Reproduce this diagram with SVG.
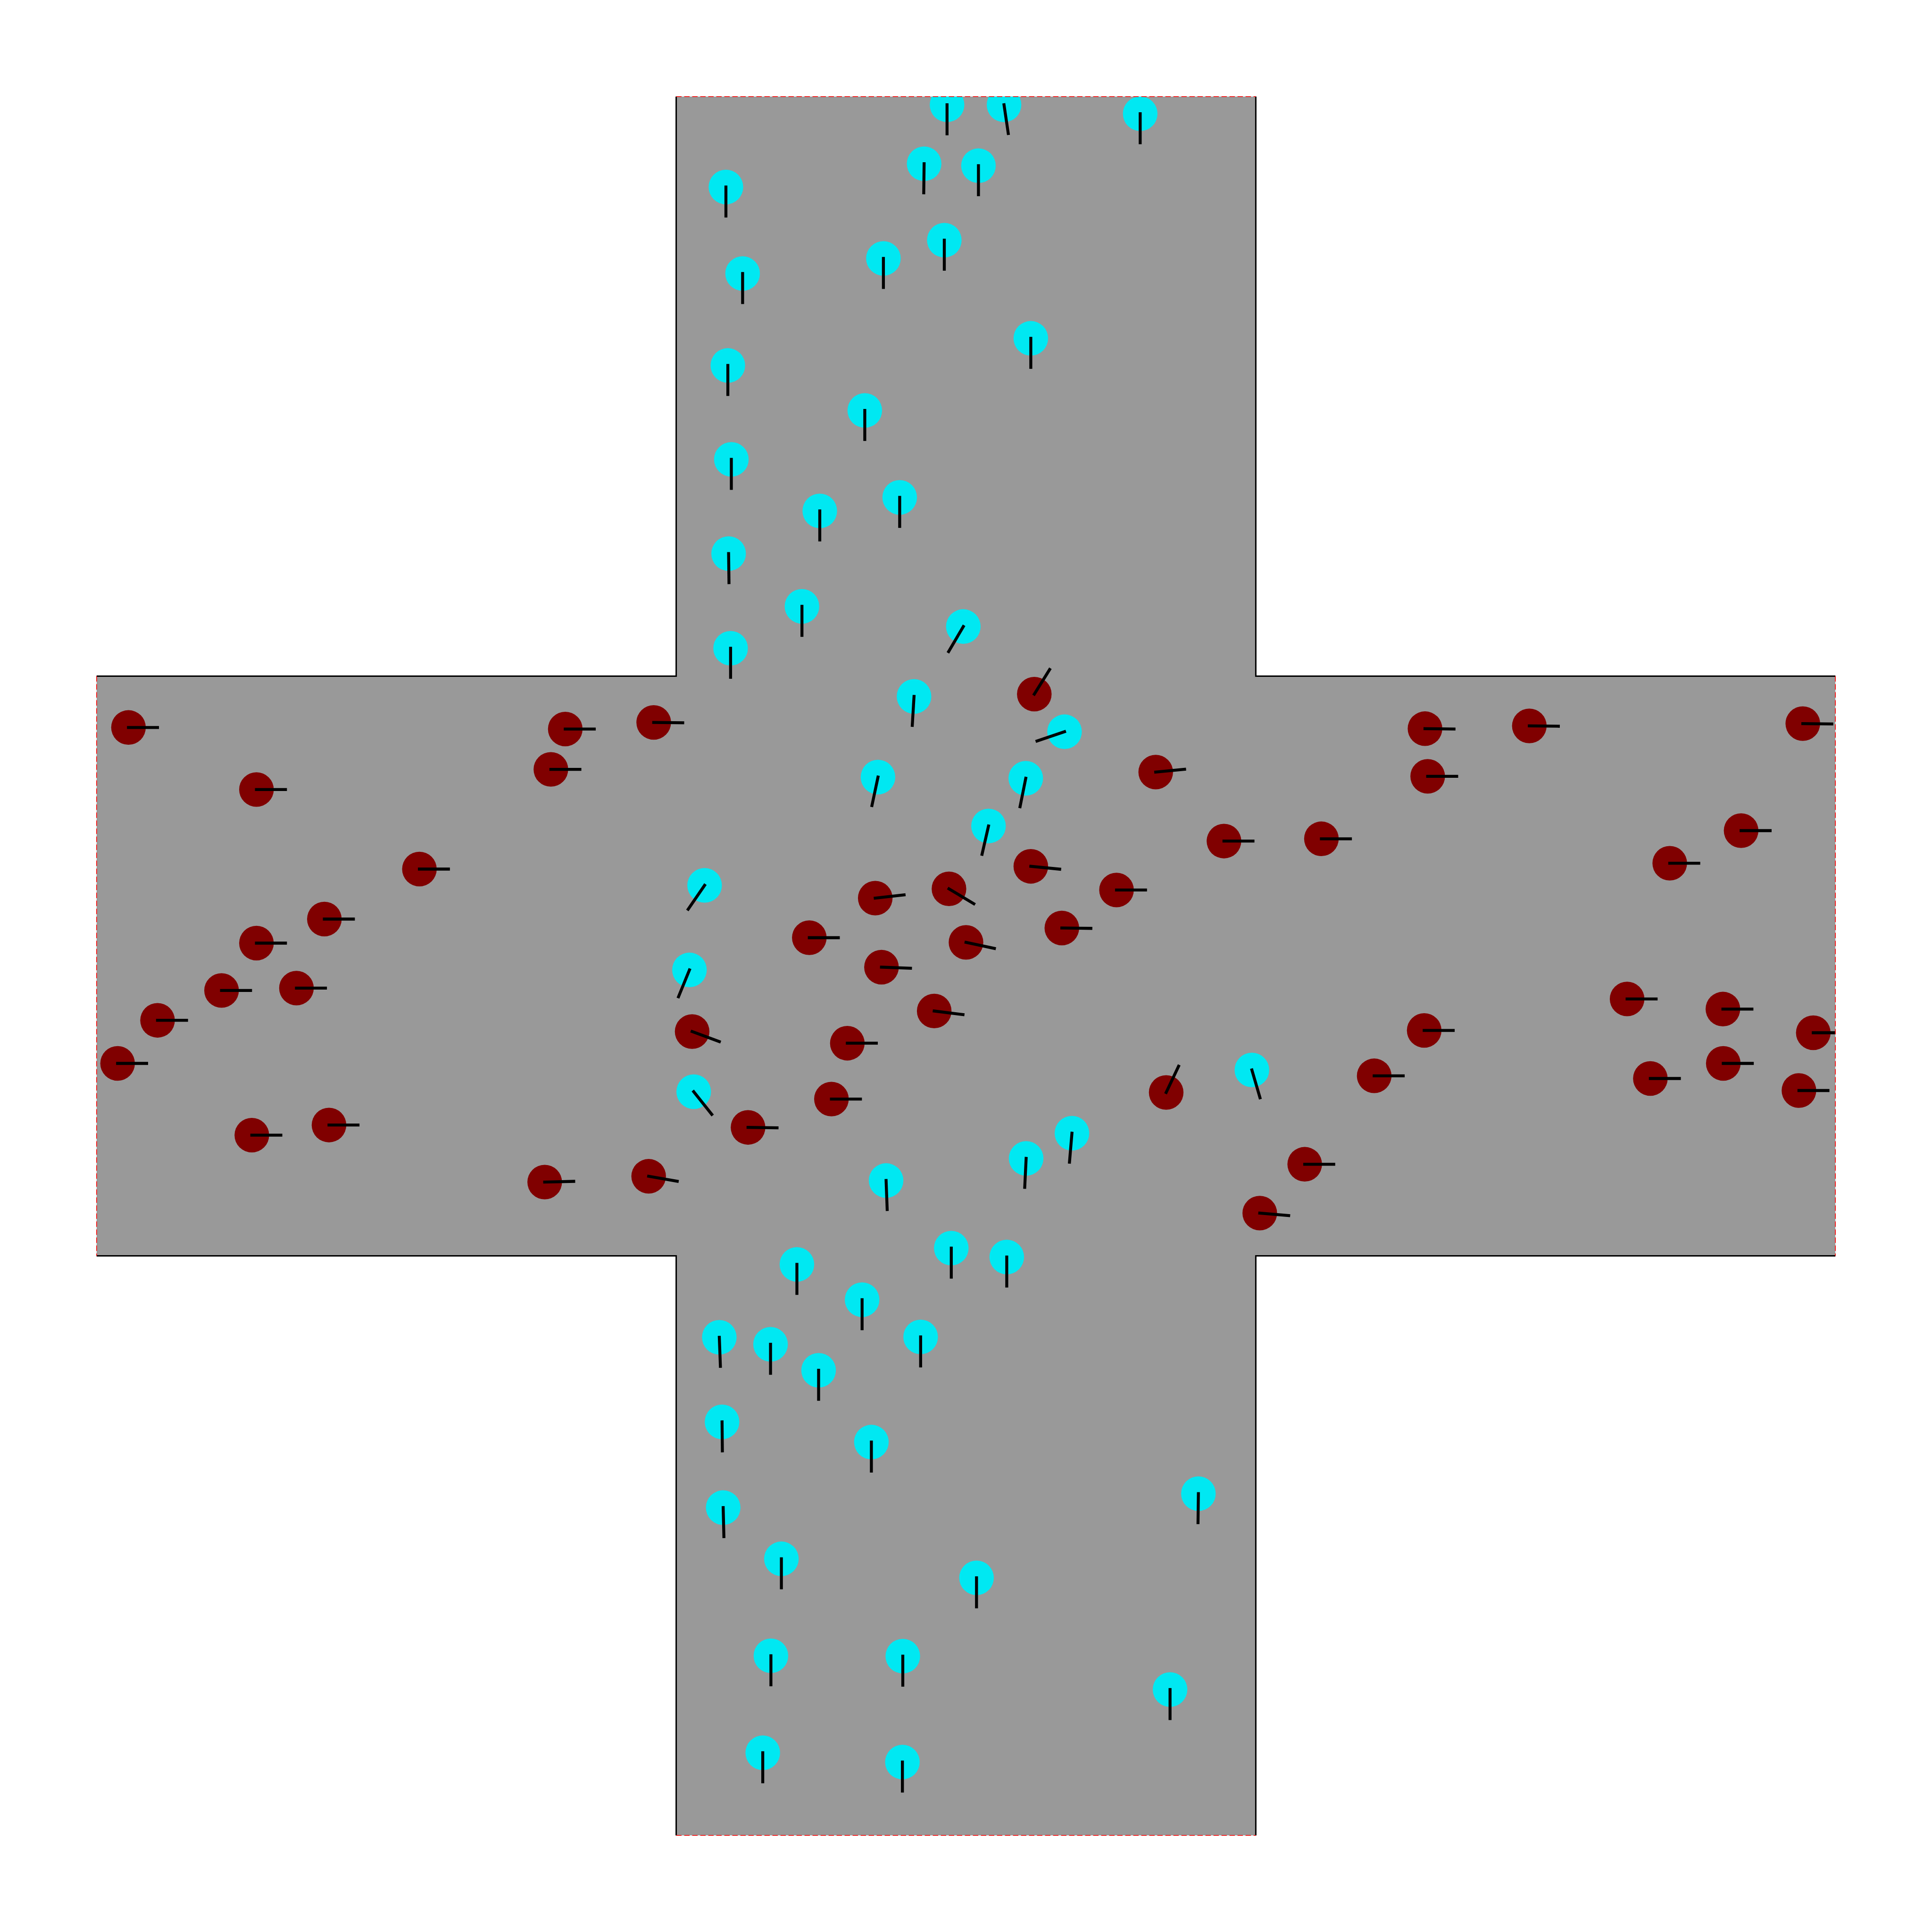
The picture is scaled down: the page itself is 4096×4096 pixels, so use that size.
<svg xmlns="http://www.w3.org/2000/svg" width="4096" height="4096" viewBox="0 0 4096 4096">
<style>
.cy{fill:#00E8F2}
.rd{fill:#800000}
.hd{stroke:#000;stroke-width:6.3;stroke-linecap:square;fill:none}
.wall{stroke:#000;stroke-width:3;fill:none}
.open{stroke:#FF0000;stroke-width:1.6;stroke-dasharray:11.4 5.6;fill:none}
</style>
<defs>
<clipPath id="crossClip"><polygon points="1433.6,204.8 2662.4,204.8 2662.4,1433.6 3891.2,1433.6 3891.2,2662.4 2662.4,2662.4 2662.4,3891.2 1433.6,3891.2 1433.6,2662.4 204.8,2662.4 204.8,1433.6 1433.6,1433.6"/></clipPath>
</defs>
<rect width="4096" height="4096" fill="#FFFFFF"/>
<polygon id="floor" fill="#999999" points="1433.6,204.8 2662.4,204.8 2662.4,1433.6 3891.2,1433.6 3891.2,2662.4 2662.4,2662.4 2662.4,3891.2 1433.6,3891.2 1433.6,2662.4 204.8,2662.4 204.8,1433.6 1433.6,1433.6"/>
<g id="agents" clip-path="url(#crossClip)">
<g id="c1"><circle class="cy" cx="2007.8" cy="222.2" r="36.7"/><line class="hd" x1="2007.8" y1="222.2" x2="2007.8" y2="283.7"/></g>
<g id="c2"><circle class="cy" cx="2128.6" cy="222.2" r="36.7"/><line class="hd" x1="2128.6" y1="222.2" x2="2137.6" y2="283.0"/></g>
<g id="c3"><circle class="cy" cx="2417.3" cy="241.1" r="36.7"/><line class="hd" x1="2417.3" y1="241.1" x2="2417.3" y2="302.6"/></g>
<g id="c4"><circle class="cy" cx="1959.2" cy="347.2" r="36.7"/><line class="hd" x1="1959.2" y1="347.2" x2="1958.4" y2="408.7"/></g>
<g id="c5"><circle class="cy" cx="2074.4" cy="351.3" r="36.7"/><line class="hd" x1="2074.4" y1="351.3" x2="2074.4" y2="412.8"/></g>
<g id="c6"><circle class="cy" cx="1539.0" cy="396.5" r="36.7"/><line class="hd" x1="1539.0" y1="396.5" x2="1539.0" y2="458.0"/></g>
<g id="c7"><circle class="cy" cx="2002.0" cy="509.2" r="36.7"/><line class="hd" x1="2002.0" y1="509.2" x2="2002.0" y2="570.7"/></g>
<g id="c8"><circle class="cy" cx="1872.9" cy="547.9" r="36.7"/><line class="hd" x1="1872.9" y1="547.9" x2="1872.9" y2="609.4"/></g>
<g id="c9"><circle class="cy" cx="1574.4" cy="579.9" r="36.7"/><line class="hd" x1="1574.4" y1="579.9" x2="1574.4" y2="641.4"/></g>
<g id="c10"><circle class="cy" cx="2185.4" cy="717.3" r="36.7"/><line class="hd" x1="2185.4" y1="717.3" x2="2185.4" y2="778.8"/></g>
<g id="c11"><circle class="cy" cx="1543.1" cy="774.8" r="36.7"/><line class="hd" x1="1543.1" y1="774.8" x2="1543.1" y2="836.3"/></g>
<g id="c12"><circle class="cy" cx="1833.4" cy="870.2" r="36.7"/><line class="hd" x1="1833.4" y1="870.2" x2="1833.4" y2="931.7"/></g>
<g id="c13"><circle class="cy" cx="1550.5" cy="973.9" r="36.7"/><line class="hd" x1="1550.5" y1="973.9" x2="1550.5" y2="1035.4"/></g>
<g id="c14"><circle class="cy" cx="1907.4" cy="1054.5" r="36.7"/><line class="hd" x1="1907.4" y1="1054.5" x2="1907.4" y2="1116.0"/></g>
<g id="c15"><circle class="cy" cx="1738.0" cy="1083.2" r="36.7"/><line class="hd" x1="1738.0" y1="1083.2" x2="1738.0" y2="1144.7"/></g>
<g id="c16"><circle class="cy" cx="1544.7" cy="1173.7" r="36.7"/><line class="hd" x1="1544.7" y1="1173.7" x2="1545.5" y2="1235.2"/></g>
<g id="c17"><circle class="cy" cx="1700.2" cy="1285.5" r="36.7"/><line class="hd" x1="1700.2" y1="1285.5" x2="1700.2" y2="1347.0"/></g>
<g id="c18"><circle class="cy" cx="2042.3" cy="1328.3" r="36.7"/><line class="hd" x1="2042.3" y1="1328.3" x2="2011.2" y2="1381.4"/></g>
<g id="c19"><circle class="cy" cx="1548.9" cy="1374.4" r="36.7"/><line class="hd" x1="1548.9" y1="1374.4" x2="1548.9" y2="1435.9"/></g>
<g id="c20"><circle class="cy" cx="1937.8" cy="1476.5" r="36.7"/><line class="hd" x1="1937.8" y1="1476.5" x2="1934.1" y2="1537.9"/></g>
<g id="c21"><circle class="cy" cx="2256.9" cy="1551.3" r="36.7"/><line class="hd" x1="2256.9" y1="1551.3" x2="2198.6" y2="1571.0"/></g>
<g id="c22"><circle class="cy" cx="1861.4" cy="1647.5" r="36.7"/><line class="hd" x1="1861.4" y1="1647.5" x2="1848.6" y2="1707.7"/></g>
<g id="c23"><circle class="cy" cx="2174.7" cy="1650.0" r="36.7"/><line class="hd" x1="2174.7" y1="1650.0" x2="2162.6" y2="1710.3"/></g>
<g id="c24"><circle class="cy" cx="2095.7" cy="1751.2" r="36.7"/><line class="hd" x1="2095.7" y1="1751.2" x2="2082.0" y2="1811.2"/></g>
<g id="c25"><circle class="cy" cx="1493.8" cy="1877.0" r="36.7"/><line class="hd" x1="1493.8" y1="1877.0" x2="1459.0" y2="1927.7"/></g>
<g id="c26"><circle class="cy" cx="1461.7" cy="2056.3" r="36.7"/><line class="hd" x1="1461.7" y1="2056.3" x2="1438.5" y2="2113.2"/></g>
<g id="c27"><circle class="cy" cx="1470.7" cy="2314.5" r="36.7"/><line class="hd" x1="1470.7" y1="2314.5" x2="1509.0" y2="2362.6"/></g>
<g id="c28"><circle class="cy" cx="2654.1" cy="2268.4" r="36.7"/><line class="hd" x1="2654.1" y1="2268.4" x2="2671.3" y2="2327.4"/></g>
<g id="c29"><circle class="cy" cx="2272.6" cy="2402.5" r="36.7"/><line class="hd" x1="2272.6" y1="2402.5" x2="2267.4" y2="2463.8"/></g>
<g id="c30"><circle class="cy" cx="2175.5" cy="2455.9" r="36.7"/><line class="hd" x1="2175.5" y1="2455.9" x2="2172.5" y2="2517.3"/></g>
<g id="c31"><circle class="cy" cx="1878.6" cy="2502.8" r="36.7"/><line class="hd" x1="1878.6" y1="2502.8" x2="1880.9" y2="2564.2"/></g>
<g id="c32"><circle class="cy" cx="1689.5" cy="2680.6" r="36.7"/><line class="hd" x1="1689.5" y1="2680.6" x2="1689.5" y2="2742.1"/></g>
<g id="c33"><circle class="cy" cx="2016.8" cy="2646.1" r="36.7"/><line class="hd" x1="2016.8" y1="2646.1" x2="2016.8" y2="2707.6"/></g>
<g id="c34"><circle class="cy" cx="2134.4" cy="2665.0" r="36.7"/><line class="hd" x1="2134.4" y1="2665.0" x2="2134.4" y2="2726.5"/></g>
<g id="c35"><circle class="cy" cx="1827.7" cy="2755.5" r="36.7"/><line class="hd" x1="1827.7" y1="2755.5" x2="1827.7" y2="2817.0"/></g>
<g id="c36"><circle class="cy" cx="1525.0" cy="2835.2" r="36.7"/><line class="hd" x1="1525.0" y1="2835.2" x2="1527.3" y2="2896.7"/></g>
<g id="c37"><circle class="cy" cx="1633.6" cy="2850.0" r="36.7"/><line class="hd" x1="1633.6" y1="2850.0" x2="1633.6" y2="2911.5"/></g>
<g id="c38"><circle class="cy" cx="1951.8" cy="2834.4" r="36.7"/><line class="hd" x1="1951.8" y1="2834.4" x2="1951.8" y2="2895.9"/></g>
<g id="c39"><circle class="cy" cx="1735.5" cy="2905.1" r="36.7"/><line class="hd" x1="1735.5" y1="2905.1" x2="1735.5" y2="2966.6"/></g>
<g id="c40"><circle class="cy" cx="1530.8" cy="3014.5" r="36.7"/><line class="hd" x1="1530.8" y1="3014.5" x2="1531.5" y2="3076.0"/></g>
<g id="c41"><circle class="cy" cx="1847.4" cy="3057.3" r="36.7"/><line class="hd" x1="1847.4" y1="3057.3" x2="1847.4" y2="3118.8"/></g>
<g id="c42"><circle class="cy" cx="2540.7" cy="3166.6" r="36.7"/><line class="hd" x1="2540.7" y1="3166.6" x2="2539.9" y2="3228.1"/></g>
<g id="c43"><circle class="cy" cx="1533.2" cy="3196.3" r="36.7"/><line class="hd" x1="1533.2" y1="3196.3" x2="1534.7" y2="3257.8"/></g>
<g id="c44"><circle class="cy" cx="1656.6" cy="3304.8" r="36.7"/><line class="hd" x1="1656.6" y1="3304.8" x2="1656.6" y2="3366.3"/></g>
<g id="c45"><circle class="cy" cx="2070.3" cy="3345.1" r="36.7"/><line class="hd" x1="2070.3" y1="3345.1" x2="2070.3" y2="3406.6"/></g>
<g id="c46"><circle class="cy" cx="1634.4" cy="3510.4" r="36.7"/><line class="hd" x1="1634.4" y1="3510.4" x2="1634.4" y2="3571.9"/></g>
<g id="c47"><circle class="cy" cx="1914.0" cy="3511.2" r="36.7"/><line class="hd" x1="1914.0" y1="3511.2" x2="1914.0" y2="3572.7"/></g>
<g id="c48"><circle class="cy" cx="2480.6" cy="3582.0" r="36.7"/><line class="hd" x1="2480.6" y1="3582.0" x2="2480.6" y2="3643.5"/></g>
<g id="c49"><circle class="cy" cx="1617.1" cy="3716.0" r="36.7"/><line class="hd" x1="1617.1" y1="3716.0" x2="1617.1" y2="3777.5"/></g>
<g id="c50"><circle class="cy" cx="1913.2" cy="3735.7" r="36.7"/><line class="hd" x1="1913.2" y1="3735.7" x2="1913.2" y2="3797.2"/></g>
<g id="r1"><circle class="rd" cx="2192.8" cy="1471.6" r="36.7"/><line class="hd" x1="2192.8" y1="1471.6" x2="2225.3" y2="1419.4"/></g>
<g id="r2"><circle class="rd" cx="2450.2" cy="1636.9" r="36.7"/><line class="hd" x1="2450.2" y1="1636.9" x2="2511.4" y2="1630.9"/></g>
<g id="r3"><circle class="rd" cx="2594.9" cy="1783.2" r="36.7"/><line class="hd" x1="2594.9" y1="1783.2" x2="2656.4" y2="1783.2"/></g>
<g id="r4"><circle class="rd" cx="2185.4" cy="1836.7" r="36.7"/><line class="hd" x1="2185.4" y1="1836.7" x2="2246.6" y2="1842.7"/></g>
<g id="r5"><circle class="rd" cx="2011.9" cy="1884.4" r="36.7"/><line class="hd" x1="2011.9" y1="1884.4" x2="2064.6" y2="1916.0"/></g>
<g id="r6"><circle class="rd" cx="1855.6" cy="1904.1" r="36.7"/><line class="hd" x1="1855.6" y1="1904.1" x2="1916.7" y2="1897.2"/></g>
<g id="r7"><circle class="rd" cx="2367.1" cy="1886.9" r="36.7"/><line class="hd" x1="2367.1" y1="1886.9" x2="2428.6" y2="1886.9"/></g>
<g id="r8"><circle class="rd" cx="1715.8" cy="1988.0" r="36.7"/><line class="hd" x1="1715.8" y1="1988.0" x2="1777.3" y2="1988.0"/></g>
<g id="r9"><circle class="rd" cx="2251.2" cy="1967.5" r="36.7"/><line class="hd" x1="2251.2" y1="1967.5" x2="2312.7" y2="1968.2"/></g>
<g id="r10"><circle class="rd" cx="2048.0" cy="1997.9" r="36.7"/><line class="hd" x1="2048.0" y1="1997.9" x2="2108.2" y2="2010.7"/></g>
<g id="r11"><circle class="rd" cx="1868.8" cy="2050.5" r="36.7"/><line class="hd" x1="1868.8" y1="2050.5" x2="1930.3" y2="2052.7"/></g>
<g id="r12"><circle class="rd" cx="1980.6" cy="2143.4" r="36.7"/><line class="hd" x1="1980.6" y1="2143.4" x2="2041.6" y2="2151.0"/></g>
<g id="r13"><circle class="rd" cx="1467.4" cy="2187.0" r="36.7"/><line class="hd" x1="1467.4" y1="2187.0" x2="1525.1" y2="2208.3"/></g>
<g id="r14"><circle class="rd" cx="1796.4" cy="2211.7" r="36.7"/><line class="hd" x1="1796.4" y1="2211.7" x2="1857.9" y2="2211.7"/></g>
<g id="r15"><circle class="rd" cx="1762.7" cy="2330.1" r="36.7"/><line class="hd" x1="1762.7" y1="2330.1" x2="1824.2" y2="2330.1"/></g>
<g id="r16"><circle class="rd" cx="1585.9" cy="2390.2" r="36.7"/><line class="hd" x1="1585.9" y1="2390.2" x2="1647.4" y2="2391.0"/></g>
<g id="r17"><circle class="rd" cx="2472.4" cy="2316.1" r="36.7"/><line class="hd" x1="2472.4" y1="2316.1" x2="2498.7" y2="2260.5"/></g>
<g id="r18"><circle class="rd" cx="272.4" cy="1542.3" r="36.7"/><line class="hd" x1="272.4" y1="1542.3" x2="333.9" y2="1542.3"/></g>
<g id="r19"><circle class="rd" cx="543.7" cy="1673.9" r="36.7"/><line class="hd" x1="543.7" y1="1673.9" x2="605.2" y2="1673.9"/></g>
<g id="r20"><circle class="rd" cx="1198.4" cy="1545.6" r="36.7"/><line class="hd" x1="1198.4" y1="1545.6" x2="1259.9" y2="1545.6"/></g>
<g id="r21"><circle class="rd" cx="1385.9" cy="1531.6" r="36.7"/><line class="hd" x1="1385.9" y1="1531.6" x2="1447.4" y2="1532.4"/></g>
<g id="r22"><circle class="rd" cx="1167.9" cy="1631.1" r="36.7"/><line class="hd" x1="1167.9" y1="1631.1" x2="1229.4" y2="1631.1"/></g>
<g id="r23"><circle class="rd" cx="889.2" cy="1842.5" r="36.7"/><line class="hd" x1="889.2" y1="1842.5" x2="950.7" y2="1842.5"/></g>
<g id="r24"><circle class="rd" cx="687.7" cy="1948.5" r="36.7"/><line class="hd" x1="687.7" y1="1948.5" x2="749.2" y2="1948.5"/></g>
<g id="r25"><circle class="rd" cx="543.7" cy="1999.5" r="36.7"/><line class="hd" x1="543.7" y1="1999.5" x2="605.2" y2="1999.5"/></g>
<g id="r26"><circle class="rd" cx="469.7" cy="2099.9" r="36.7"/><line class="hd" x1="469.7" y1="2099.9" x2="531.2" y2="2099.9"/></g>
<g id="r27"><circle class="rd" cx="628.5" cy="2094.9" r="36.7"/><line class="hd" x1="628.5" y1="2094.9" x2="690.0" y2="2094.9"/></g>
<g id="r28"><circle class="rd" cx="334.0" cy="2163.2" r="36.7"/><line class="hd" x1="334.0" y1="2163.2" x2="395.5" y2="2163.2"/></g>
<g id="r29"><circle class="rd" cx="249.3" cy="2254.5" r="36.7"/><line class="hd" x1="249.3" y1="2254.5" x2="310.8" y2="2254.5"/></g>
<g id="r30"><circle class="rd" cx="533.9" cy="2406.6" r="36.7"/><line class="hd" x1="533.9" y1="2406.6" x2="595.4" y2="2406.6"/></g>
<g id="r31"><circle class="rd" cx="697.5" cy="2385.2" r="36.7"/><line class="hd" x1="697.5" y1="2385.2" x2="759.0" y2="2385.2"/></g>
<g id="r32"><circle class="rd" cx="1154.8" cy="2506.1" r="36.7"/><line class="hd" x1="1154.8" y1="2506.1" x2="1216.3" y2="2504.6"/></g>
<g id="r33"><circle class="rd" cx="1375.2" cy="2493.8" r="36.7"/><line class="hd" x1="1375.2" y1="2493.8" x2="1435.8" y2="2504.4"/></g>
<g id="r34"><circle class="rd" cx="3021.1" cy="1544.8" r="36.7"/><line class="hd" x1="3021.1" y1="1544.8" x2="3082.6" y2="1545.5"/></g>
<g id="r35"><circle class="rd" cx="3242.3" cy="1539.0" r="36.7"/><line class="hd" x1="3242.3" y1="1539.0" x2="3303.8" y2="1539.7"/></g>
<g id="r36"><circle class="rd" cx="3822.1" cy="1534.1" r="36.7"/><line class="hd" x1="3822.1" y1="1534.1" x2="3883.6" y2="1534.8"/></g>
<g id="r37"><circle class="rd" cx="3026.8" cy="1645.9" r="36.7"/><line class="hd" x1="3026.8" y1="1645.9" x2="3088.3" y2="1645.9"/></g>
<g id="r38"><circle class="rd" cx="2801.5" cy="1778.3" r="36.7"/><line class="hd" x1="2801.5" y1="1778.3" x2="2863.0" y2="1778.3"/></g>
<g id="r39"><circle class="rd" cx="3691.3" cy="1761.0" r="36.7"/><line class="hd" x1="3691.3" y1="1761.0" x2="3752.8" y2="1761.0"/></g>
<g id="r40"><circle class="rd" cx="3540.0" cy="1830.1" r="36.7"/><line class="hd" x1="3540.0" y1="1830.1" x2="3601.5" y2="1830.1"/></g>
<g id="r41"><circle class="rd" cx="3449.6" cy="2117.9" r="36.7"/><line class="hd" x1="3449.6" y1="2117.9" x2="3511.1" y2="2117.9"/></g>
<g id="r42"><circle class="rd" cx="3652.7" cy="2139.3" r="36.7"/><line class="hd" x1="3652.7" y1="2139.3" x2="3714.2" y2="2139.3"/></g>
<g id="r43"><circle class="rd" cx="3844.3" cy="2189.5" r="36.7"/><line class="hd" x1="3844.3" y1="2189.5" x2="3905.8" y2="2189.5"/></g>
<g id="r44"><circle class="rd" cx="3019.4" cy="2184.6" r="36.7"/><line class="hd" x1="3019.4" y1="2184.6" x2="3080.9" y2="2184.6"/></g>
<g id="r45"><circle class="rd" cx="2913.4" cy="2280.8" r="36.7"/><line class="hd" x1="2913.4" y1="2280.8" x2="2974.9" y2="2280.8"/></g>
<g id="r46"><circle class="rd" cx="3498.9" cy="2286.5" r="36.7"/><line class="hd" x1="3498.9" y1="2286.5" x2="3560.4" y2="2286.5"/></g>
<g id="r47"><circle class="rd" cx="3653.5" cy="2254.5" r="36.7"/><line class="hd" x1="3653.5" y1="2254.5" x2="3715.0" y2="2254.5"/></g>
<g id="r48"><circle class="rd" cx="3813.9" cy="2312.0" r="36.7"/><line class="hd" x1="3813.9" y1="2312.0" x2="3875.4" y2="2312.0"/></g>
<g id="r49"><circle class="rd" cx="2766.1" cy="2468.3" r="36.7"/><line class="hd" x1="2766.1" y1="2468.3" x2="2827.6" y2="2468.3"/></g>
<g id="r50"><circle class="rd" cx="2670.8" cy="2571.9" r="36.7"/><line class="hd" x1="2670.8" y1="2571.9" x2="2732.1" y2="2577.2"/></g>
</g>
<g id="walls">
<polyline class="wall" points="1433.6,204.8 1433.6,1433.6 204.8,1433.6"/>
<polyline class="wall" points="2662.4,204.8 2662.4,1433.6 3891.2,1433.6"/>
<polyline class="wall" points="3891.2,2662.4 2662.4,2662.4 2662.4,3891.2"/>
<polyline class="wall" points="1433.6,3891.2 1433.6,2662.4 204.8,2662.4"/>
<line class="open" x1="1433.6" y1="204.8" x2="2662.4" y2="204.8"/>
<line class="open" x1="1433.6" y1="3891.2" x2="2662.4" y2="3891.2"/>
<line class="open" x1="204.8" y1="1433.6" x2="204.8" y2="2662.4"/>
<line class="open" x1="3891.2" y1="1433.6" x2="3891.2" y2="2662.4"/>
</g>
</svg>
